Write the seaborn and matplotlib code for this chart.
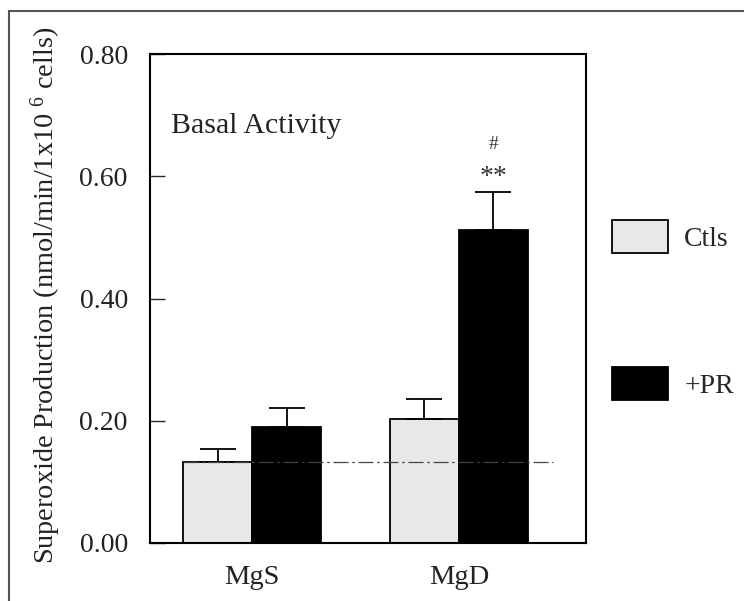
import numpy as np
import pandas as pd
import matplotlib
matplotlib.use("Agg")
import matplotlib.pyplot as plt
import seaborn as sns
from matplotlib.lines import Line2D

# ---------- data ----------
groups = ["MgS", "MgD"]
treatments = ["Ctls", "+PR"]
ctl_means = [0.133, 0.203]
pr_means = [0.190, 0.512]
ctl_err = [0.021, 0.033]
pr_err = [0.031, 0.062]
baseline = 0.133
y_ticks = [0.0, 0.2, 0.4, 0.6, 0.8]

df = pd.DataFrame({
    "group": groups * 2,
    "treatment": [treatments[0]] * 2 + [treatments[1]] * 2,
    "value": ctl_means + pr_means,
    "err": ctl_err + pr_err,
})

# ---------- style ----------
sns.set_style("white")
plt.rcParams["font.family"] = ["Liberation Serif", "DejaVu Serif"]
plt.rcParams["mathtext.fontset"] = "custom"
plt.rcParams["mathtext.rm"] = "Liberation Serif"
plt.rcParams["mathtext.it"] = "Liberation Serif"

fig = plt.figure(figsize=(7.44, 6.01), dpi=100)
ax = fig.add_axes([150 / 744, 1 - 543 / 601, 436 / 744, 489 / 601])

sns.barplot(data=df, x="group", y="value", hue="treatment", order=groups,
            hue_order=treatments, palette=["#e8e8e8", "#000000"],
            width=0.667, edgecolor="black", linewidth=1.3, saturation=1,
            errorbar=None, ax=ax)

# error bars (upper only)
bar_sets = list(ax.containers)
for i, bars in enumerate(bar_sets):
    errs = ctl_err if i == 0 else pr_err
    for bar, e in zip(bars.patches, errs):
        xc = bar.get_x() + bar.get_width() / 2
        h = bar.get_height()
        ax.errorbar(xc, h, yerr=[[0], [e]], fmt="none", ecolor="black",
                    elinewidth=1.3, capsize=13, capthick=1.3, zorder=1)

# dash-dot baseline
ax.plot([-0.333, 1.455], [baseline, baseline], color="#444444",
        linewidth=0.9, linestyle=(0, (12, 3, 2, 3)), zorder=3)

# significance marks over MgD +PR
top = pr_means[1] + pr_err[1]
ax.text(1.167, top + 0.003, "**", ha="center", va="bottom", fontsize=20,
        color="#333333")
ax.text(1.167, top + 0.064, "#", ha="center", va="bottom", fontsize=14,
        color="#333333")

ax.text(-0.39, 0.682, "Basal Activity", fontsize=21.5, color="#222222",
        va="center", ha="left")

ax.set_xlim(-0.493, 1.614)
ax.set_ylim(0, 0.8)
ax.set_yticks(y_ticks)
ax.set_yticklabels([f"{t:.2f}" for t in y_ticks], fontsize=20, color="#222222")
ax.tick_params(axis="y", direction="in", length=11, width=1, pad=16,
               left=True)
ax.tick_params(axis="x", length=0, pad=16, labelsize=20.5, labelcolor="#222222")
ax.set_xlabel("")
ax.set_ylabel(r"Superoxide Production (nmol/min/1x10 $^{6}$ cells)",
              fontsize=20.3, color="#222222")
ax.yaxis.set_label_coords(-0.2, 0.506)
for s in ax.spines.values():
    s.set_visible(True)
    s.set_color("black")
    s.set_linewidth(1.5)

# legend
handles, labels = ax.get_legend_handles_labels()
ax.legend(handles, labels, loc="upper left", frameon=False,
          bbox_to_anchor=(612 / 744, 1 - 220 / 601),
          bbox_transform=fig.transFigure, fontsize=20, borderpad=0,
          borderaxespad=0, handlelength=2.0, handleheight=1.45,
          labelspacing=4.1, handletextpad=0.6)

# outer frame of the original figure
fig.add_artist(Line2D([9 / 744, 9 / 744], [0, 1 - 11 / 601],
                      color="#555555", linewidth=1.5))
fig.add_artist(Line2D([9 / 744, 1], [1 - 11 / 601, 1 - 11 / 601],
                      color="#555555", linewidth=1.5))

fig.savefig("out.png", dpi=100)
